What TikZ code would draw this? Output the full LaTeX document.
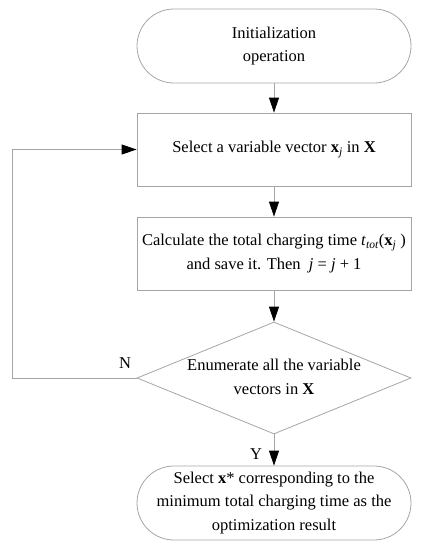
\documentclass[tikz,border=0pt]{standalone}
\usepackage{fontspec}
\setmainfont{Liberation Serif}
\usetikzlibrary{arrows.meta,shapes.geometric}
\begin{document}
\begin{tikzpicture}[x=1pt,y=-1pt,
  every node/.style={font=\fontsize{16.5}{23.5}\selectfont, text=black},
  line/.style={draw=black!35, line width=0.8pt},
  arr/.style={line, -{Triangle[length=15pt,width=10pt,color=black]}},
  term/.style={line, rectangle, rounded corners=37pt, minimum width=274pt, minimum height=74pt, align=center, inner sep=0pt},
  proc/.style={line, rectangle, minimum width=274pt, minimum height=73pt, align=center, inner sep=0pt},
  dec/.style={line, diamond, minimum width=274pt, minimum height=112pt, inner sep=0pt}]
\useasboundingbox (0,0) rectangle (423,550);
\node[term] (init) at (274,46) {Initialization\\operation};
\node[proc] (sel) at (274,149.5) {Select a variable vector \textbf{x}\textsubscript{\itshape j} in \textbf{X}};
\node[proc] (calc) at (274,253.5) {Calculate the total charging time \textit{t}\textsubscript{\itshape tot}(\textbf{x}\textsubscript{\itshape j} )\\and save it. Then\ \ \textit{j} = \textit{j} + 1};
\node[dec] (enum) at (274,378) {};
\node[align=center] (enumtxt) at (274,377) {Enumerate all the variable\\vectors in \textbf{X}};
\node[term] (final) at (274,503) {Select \textbf{x}* corresponding to the\\minimum total charging time as the\\optimization result};
\coordinate (lb) at (12,378);
\coordinate (lt) at (12,149.5);
\draw[arr] (init) -- (sel);
\draw[arr] (sel) -- (calc);
\draw[arr] (calc) -- (enum);
\draw[arr] (enum) -- (final);
\draw[arr] (enum.west) -- (lb) -- (lt) -- (sel.west);
\node (N) at (125,363) {N};
\node (Y) at (256,454) {Y};
\end{tikzpicture}
\end{document}
